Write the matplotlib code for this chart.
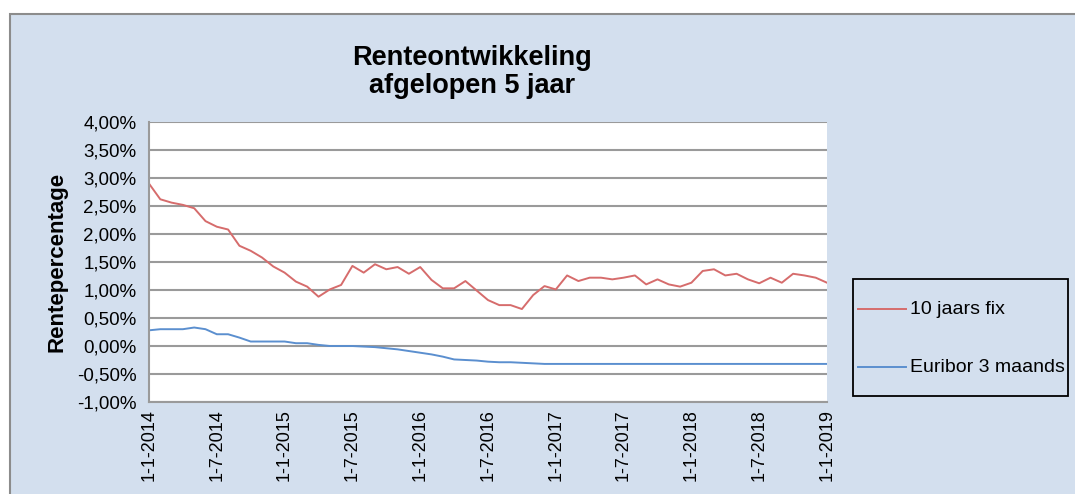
import matplotlib.pyplot as plt
from matplotlib.patches import Rectangle
from matplotlib.lines import Line2D

plt.rcParams['font.family'] = ['Liberation Sans', 'DejaVu Sans']

# --- data (monthly, 1-1-2014 .. 1-1-2019) ---
tick_labels = ['1-1-2014', '1-7-2014', '1-1-2015', '1-7-2015', '1-1-2016', '1-7-2016',
               '1-1-2017', '1-7-2017', '1-1-2018', '1-7-2018', '1-1-2019']

fix_10y = [2.90, 2.62, 2.56, 2.52, 2.46, 2.23, 2.13, 2.08, 1.79, 1.70,
           1.58, 1.42, 1.31, 1.15, 1.06, 0.88, 1.01, 1.09, 1.43, 1.31,
           1.46, 1.37, 1.41, 1.29, 1.41, 1.18, 1.03, 1.03, 1.16, 0.99,
           0.82, 0.73, 0.73, 0.66, 0.91, 1.07, 1.01, 1.26, 1.16, 1.22,
           1.22, 1.19, 1.22, 1.26, 1.10, 1.19, 1.10, 1.06, 1.13, 1.34,
           1.37, 1.26, 1.29, 1.19, 1.12, 1.22, 1.13, 1.29, 1.26, 1.22,
           1.13]

euribor_3m = [0.28, 0.30, 0.30, 0.30, 0.33, 0.30, 0.21, 0.21, 0.15, 0.08,
              0.08, 0.08, 0.08, 0.05, 0.05, 0.02, 0.00, 0.00, 0.00, -0.01,
              -0.02, -0.04, -0.06, -0.09, -0.12, -0.15, -0.19, -0.24, -0.25, -0.26,
              -0.28, -0.29, -0.29, -0.30, -0.31, -0.32, -0.32, -0.32, -0.32, -0.32,
              -0.32, -0.32, -0.32, -0.32, -0.32, -0.32, -0.32, -0.32, -0.32, -0.32,
              -0.32, -0.32, -0.32, -0.32, -0.32, -0.32, -0.32, -0.32, -0.32, -0.32,
              -0.32]

series_names = ['10 jaars fix', 'Euribor 3 maands']
series_colors = ['#D66C6C', '#5B8FCF']

W, H = 1075, 494
bg = '#D3DFEE'
fig = plt.figure(figsize=(W / 100, H / 100), dpi=100)
fig.patch.set_facecolor('white')

def fx(px):
    return px / W

def fy(py):
    return 1 - py / H

# chart area (light blue panel with grey border)
fig.patches.append(Rectangle((fx(10), -0.1), 1.2, fy(14) + 0.1, transform=fig.transFigure,
                             facecolor=bg, edgecolor='#8C8C8C', linewidth=1.5, zorder=-10))

ax = fig.add_axes([fx(149), fy(402), fx(827) - fx(149), fy(122) - fy(402)])
ax.set_facecolor('white')

months = list(range(len(fix_10y)))
l1, = ax.plot(months, fix_10y, color=series_colors[0], linewidth=1.4)
l2, = ax.plot(months, euribor_3m, color=series_colors[1], linewidth=1.4)

ax.set_xlim(0, 60)
ax.set_ylim(-1.0, 4.0)
yt = [-1.0 + 0.5 * k for k in range(11)]
ax.set_yticks(yt)
ax.set_yticklabels([('%.2f' % v).replace('.', ',') + '%' for v in yt], fontsize=13.5)
ax.set_xticks(range(0, 61, 6))
ax.set_xticklabels(tick_labels, rotation=90, fontsize=13)
ax.tick_params(axis='y', length=0, pad=9)
ax.tick_params(axis='x', length=0, pad=5)
ax.grid(axis='y', color='#9A9A9A', linewidth=1.5)
ax.set_axisbelow(True)
for s in ['top', 'right']:
    ax.spines[s].set_visible(False)
for s in ['left', 'bottom']:
    ax.spines[s].set_color('#9A9A9A')
    ax.spines[s].set_linewidth(1.5)

fig.text(fx(57), fy(262), 'Rentepercentage', rotation=90, ha='center', va='center',
         fontsize=16, fontweight='bold')

fig.text(fx(472), fy(72), 'Renteontwikkeling\nafgelopen 5 jaar', ha='center', va='center',
         fontsize=19.5, fontweight='bold', linespacing=1.1)

# legend box drawn by hand to match the spacing of the original
fig.patches.append(Rectangle((fx(853), fy(396)), fx(1068) - fx(853), fy(279) - fy(396),
                             transform=fig.transFigure, facecolor=bg, edgecolor='black',
                             linewidth=1.3, zorder=1))
for name, col, ypx in zip(series_names, series_colors, [309, 367]):
    fig.lines.append(Line2D([fx(858), fx(906)], [fy(ypx), fy(ypx)], transform=fig.transFigure,
                            color=col, linewidth=1.4, zorder=2))
    fig.text(fx(910), fy(ypx), name, ha='left', va='center', fontsize=14)

fig.savefig('out.png', dpi=100)
